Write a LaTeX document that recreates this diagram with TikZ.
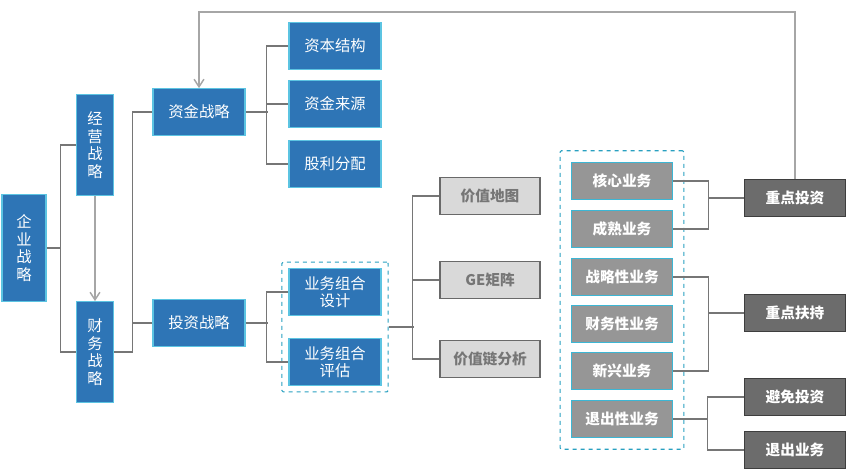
\documentclass[tikz,border=0pt]{standalone}
\usepackage{fontspec}
\setmainfont{Noto Sans CJK SC}
\usepackage{tikz}
\usetikzlibrary{arrows.meta,positioning,calc,fit,backgrounds}
\definecolor{stratblue}{RGB}{46,117,182}
\definecolor{stratedge}{RGB}{92,196,226}
\definecolor{toolfill}{RGB}{217,217,217}
\definecolor{tooledge}{RGB}{105,105,105}
\definecolor{tooltext}{RGB}{118,118,118}
\definecolor{bizfill}{RGB}{150,150,150}
\definecolor{bizedge}{RGB}{60,182,212}
\definecolor{actfill}{RGB}{108,108,108}
\definecolor{actedge}{RGB}{62,62,62}
\definecolor{linegray}{RGB}{118,118,118}
\definecolor{arrowgray}{RGB}{166,166,166}
\definecolor{groupedge}{RGB}{40,160,192}
\tikzset{
    bluebox/.style={draw=stratedge,fill=stratblue,line width=0.8pt,text=white,align=center,
        minimum width=69pt,minimum height=35pt,inner sep=1pt,font=\fontsize{11.5}{13}\selectfont},
    vbox/.style={bluebox,minimum width=27.5pt,minimum height=75.5pt,font=\fontsize{11.5}{13.2}\selectfont},
    toolbox/.style={draw=tooledge,fill=toolfill,line width=0.9pt,text=tooltext,
        minimum width=75pt,minimum height=27.5pt,inner sep=1pt,font=\fontsize{11}{13}\selectfont\bfseries},
    bizbox/.style={draw=bizedge,fill=bizfill,line width=0.9pt,text=white,
        minimum width=76pt,minimum height=27.5pt,inner sep=1pt,font=\fontsize{11}{13}\selectfont\bfseries},
    actbox/.style={draw=actedge,fill=actfill,line width=0.9pt,text=white,
        minimum width=76pt,minimum height=27.5pt,inner sep=1pt,font=\fontsize{11}{13}\selectfont\bfseries},
    group/.style={draw=groupedge,dashed,line width=0.8pt,rounded corners=1pt},
    conn/.style={draw=linegray,line width=0.9pt},
    arrow/.style={draw=arrowgray,line width=1.1pt,-{Straight Barb[length=2mm,width=2.6mm]}}
}
\begin{document}
\begin{tikzpicture}[x=0.75pt,y=-0.75pt]
    \useasboundingbox (0,0) rectangle (849,472);
    % strategy levels
    \node[vbox,minimum width=33pt,minimum height=80pt] (qy) at (24,248) {企\\业\\战\\略};
    \node[vbox] (jy) at (95,145) {经\\营\\战\\略};
    \node[vbox] (cw) at (95,352) {财\\务\\战\\略};
    \node[bluebox] (zj) at (199,112) {资金战略};
    \node[bluebox] (tz) at (199,323) {投资战略};
    \node[bluebox] (zb) at (335,46) {资本结构};
    \node[bluebox] (zl) at (335,104) {资金来源};
    \node[bluebox] (gl) at (335,164) {股利分配};
    \node[bluebox] (sj) at (335,292) {业务组合\\设计};
    \node[bluebox] (pg) at (335,362) {业务组合\\评估};
    \node[group,fit=(sj)(pg),inner xsep=5pt,inner ysep=4.5pt] (grp1) {};
    % analysis tools
    \node[toolbox] (jzdt) at (490,196) {价值地图};
    \node[toolbox] (ge) at (490,280) {GE矩阵};
    \node[toolbox] (jzl) at (490,359) {价值链分析};
    % business types
    \node[bizbox] (hx) at (622,181) {核心业务};
    \node[bizbox] (cs) at (622,229) {成熟业务};
    \node[bizbox] (zlx) at (622,277) {战略性业务};
    \node[bizbox] (cwx) at (622,324) {财务性业务};
    \node[bizbox] (xx) at (622,371) {新兴业务};
    \node[bizbox] (tc) at (622,419) {退出性业务};
    \node[group,fit=(hx)(tc),inner xsep=8pt,inner ysep=8.5pt] (grp2) {};
    % actions
    \node[actbox] (zdtz) at (795,198) {重点投资};
    \node[actbox] (zdfc) at (795,313) {重点扶持};
    \node[actbox] (bm) at (795,397) {避免投资};
    \node[actbox] (tcyw) at (795,450) {退出业务};
    % connectors
    \draw[conn] (qy.east) -- ++(14,0);
    \draw[conn] (jy.west) -- ++(-16,0) |- (cw.west);
    \draw[conn] (zj.west) -- ++(-20,0) |- (cw.east);
    \draw[conn] (tz.west) -- ++(-20,0);
    \draw[conn] (zj.east) -- ++(22,0);
    \draw[conn] (zb.west) -- ++(-22,0) |- (gl.west);
    \draw[conn] (zl.west) -- ++(-22,0);
    \draw[conn] (tz.east) -- ++(22,0);
    \draw[conn] (sj.west) -- ++(-22,0) |- (pg.west);
    \draw[conn] (grp1.east) -- ++(25,0);
    \draw[conn] (jzdt.west) -- ++(-27,0) |- (jzl.west);
    \draw[conn] (ge.west) -- ++(-27,0);
    \draw[conn] (hx.east) -- ++(35,0) |- (cs.east);
    \draw[conn] (zdtz.west) -- ++(-36,0);
    \draw[conn] (zlx.east) -- ++(35,0) |- (xx.east);
    \draw[conn] (zdfc.west) -- ++(-36,0);
    \draw[conn] (tc.east) -- ++(35,0);
    \draw[conn] (bm.west) -- ++(-36,0) |- (tcyw.west);
    \draw[arrow] (jy.south) -- (cw.north);
    \draw[arrow] (zdtz.north) -- ++(0,-167) -| (zj.north);
\end{tikzpicture}
\end{document}
